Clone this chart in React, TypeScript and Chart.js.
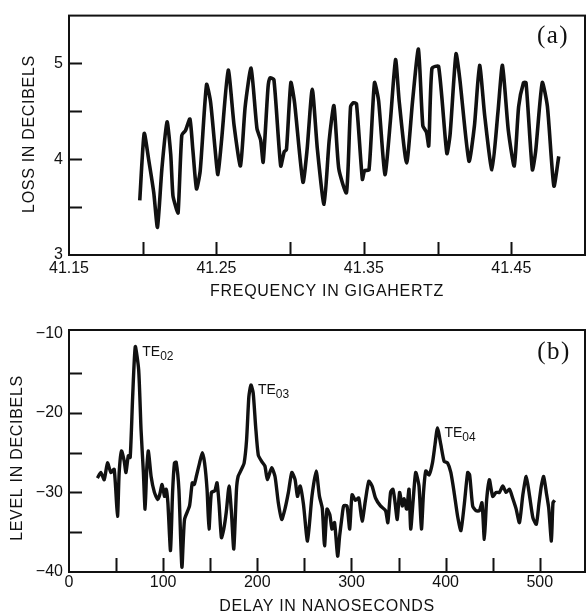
import React, { useEffect, useRef } from 'react';
import { Chart, registerables } from 'chart.js';

Chart.register(...registerables);

// ---------- Panel (a): loss vs frequency ----------
const freqGHz = [
  41.198, 41.201, 41.204, 41.2075, 41.21, 41.213, 41.2165, 41.219, 41.2205, 41.2225,
  41.224, 41.2265, 41.229, 41.232, 41.234, 41.2365, 41.239, 41.2433, 41.246, 41.249,
  41.251, 41.2535, 41.258, 41.262, 41.2663, 41.2695, 41.2735, 41.2775, 41.28, 41.2817,
  41.285, 41.2864, 41.289, 41.2936, 41.296, 41.2975, 41.3005, 41.303, 41.3087, 41.3115,
  41.315, 41.3185, 41.323, 41.3265, 41.3297, 41.333, 41.3382, 41.341, 41.343, 41.345,
  41.349, 41.3505, 41.3535, 41.3572, 41.36, 41.3643, 41.368, 41.3715, 41.374, 41.379,
  41.383, 41.387, 41.39, 41.3925, 41.394, 41.3962, 41.4007, 41.4063, 41.4085, 41.4125,
  41.415, 41.4213, 41.425, 41.4285, 41.432, 41.4369, 41.441, 41.444, 41.448, 41.452,
  41.455, 41.4583, 41.46, 41.4643, 41.4665, 41.471, 41.4745, 41.4789, 41.4822,
];
const lossDb = [
  3.57, 4.27, 4.0, 3.65, 3.29, 3.9, 4.39, 4.05, 3.62, 3.5,
  3.44, 4.25, 4.3, 4.42, 4.1, 3.69, 3.88, 4.78, 4.6, 4.12,
  3.84, 4.2, 4.93, 4.35, 3.93, 4.55, 4.95, 4.32, 4.2, 3.97,
  4.75, 4.85, 4.83, 3.93, 4.08, 4.1, 4.8, 4.59, 3.76, 4.1,
  4.73, 4.1, 3.53, 4.2, 4.56, 3.9, 3.65, 4.55, 4.59, 4.58,
  3.79, 3.88, 3.89, 4.8, 4.61, 3.84, 4.4, 5.04, 4.6, 3.96,
  4.6, 5.15, 4.35, 4.28, 4.14, 4.95, 4.97, 4.06, 4.26, 5.1,
  4.85, 3.98, 4.35, 4.98, 4.45, 3.89, 4.5, 4.98, 4.3, 3.93,
  4.55, 4.8, 4.8, 3.89, 4.08, 4.8, 4.55, 3.72, 4.03,
];
const freqTickMarks = [41.2, 41.25, 41.3, 41.35, 41.4, 41.45];
const freqTickLabels = [41.15, 41.25, 41.35, 41.45];
const lossTickMarks = [3.5, 4, 4.5, 5];
const lossTickLabels = [3, 4, 5];

// ---------- Panel (b): level vs delay ----------
const delayNs = [
  30.2, 33.8, 37.4, 40.9, 44.5, 48.0, 51.5, 53.3, 55.8, 58.7,
  60.5, 63.0, 65.0, 67.6, 70.4, 74.0, 76.5, 79.0, 80.8, 82.6,
  84.3, 87.2, 90.7, 94.3, 96.5, 98.9, 101.4, 103.2, 105.0, 107.8,
  110.0, 112.0, 113.8, 116.7, 119.9, 122.7, 128.0, 130.9, 133.0, 135.2,
  138.7, 141.6, 144.0, 146.6, 148.7, 151.2, 154.8, 157.2, 159.4, 161.9,
  164.4, 167.0, 170.0, 172.5, 175.0, 177.9, 179.6, 183.2, 186.0, 188.6,
  191.0, 193.2, 195.6, 198.2, 201.0, 204.6, 208.1, 210.6, 215.2, 218.8,
  222.3, 225.9, 229.5, 233.0, 236.6, 240.1, 242.6, 245.5, 249.0, 253.3,
  258.0, 262.5, 266.0, 269.0, 271.4, 274.0, 277.0, 279.3, 282.0, 285.3,
  287.4, 290.0, 291.7, 295.2, 298.1, 300.6, 304.2, 307.7, 311.3, 314.8,
  318.4, 321.9, 325.5, 330.8, 336.2, 338.6, 341.5, 344.0, 346.0, 348.6,
  351.1, 354.0, 356.0, 358.6, 361.1, 362.9, 365.5, 368.2, 371.7, 374.3,
  376.5, 378.9, 382.4, 386.0, 388.7, 391.3, 394.9, 398.4, 402.0, 405.5,
  409.0, 412.7, 416.2, 419.8, 423.4, 425.5, 428.7, 432.2, 435.8, 438.6,
  441.1, 443.5, 446.4, 450.0, 453.6, 457.1, 460.7, 464.2, 467.8, 471.4,
  474.9, 478.4, 482.0, 485.6, 489.2, 492.7, 496.3, 499.0, 501.6, 504.1,
  506.9, 509.5, 512.3, 514.0, 515.8,
];
const levelDb = [
  -28.2, -27.5, -28.4, -26.3, -27.5, -27.1, -33.0, -27.5, -24.8, -26.1,
  -27.5, -25.4, -25.6, -18.0, -11.7, -14.6, -22.1, -27.5, -32.1, -27.0,
  -24.8, -28.0, -30.0, -30.9, -30.2, -29.0, -30.5, -29.6, -31.3, -37.3,
  -30.0, -26.3, -26.2, -29.6, -39.4, -33.4, -31.7, -28.8, -29.0, -28.0,
  -26.3, -25.0, -26.3, -29.6, -34.6, -30.0, -29.8, -28.8, -31.5, -35.7,
  -34.6, -32.5, -29.2, -32.5, -37.1, -29.6, -28.0, -27.1, -26.3, -23.4,
  -18.0, -16.5, -17.5, -21.7, -25.3, -26.1, -26.7, -28.4, -26.9, -28.0,
  -31.3, -33.4, -32.0, -30.0, -27.5, -28.4, -30.5, -29.2, -31.5, -36.1,
  -30.5, -27.3, -30.5, -32.0, -36.7, -32.1, -32.8, -34.6, -33.8, -38.0,
  -35.5, -33.0, -31.7, -31.7, -34.6, -30.3, -31.0, -30.7, -33.6, -31.0,
  -28.6, -29.2, -30.7, -31.7, -32.3, -33.8, -30.0, -29.6, -31.0, -33.4,
  -30.0, -31.7, -30.8, -32.1, -29.6, -34.6, -31.0, -27.5, -29.2, -34.6,
  -30.0, -27.3, -27.8, -26.3, -24.0, -21.9, -24.0, -26.1, -26.3, -27.5,
  -30.0, -33.0, -34.8, -31.5, -27.5, -27.8, -31.7, -32.3, -32.3, -31.3,
  -35.9, -31.0, -28.4, -30.5, -30.0, -30.0, -29.2, -30.0, -29.6, -30.8,
  -32.1, -33.8, -30.3, -28.0, -30.5, -33.2, -34.0, -31.5, -29.2, -28.0,
  -30.0, -32.0, -36.1, -31.3, -31.0,
];
const delayTickMarks = [50, 100, 150, 200, 250, 300, 350, 400, 450, 500];
const delayTickLabels = [0, 100, 200, 300, 400, 500];
const levelTickMarks = [-35, -30, -25, -20, -15];
const levelTickLabels = [-40, -30, -20, -10];

const modeNames = ['02', '03', '04'];
const modeDelay = [70.4, 193.2, 391.3];
const modeLevel = [-11.7, -16.5, -21.9];

const INK = '#111';
const SANS = '"Liberation Sans", Arial, sans-serif';
const SERIF = '"Liberation Serif", "Times New Roman", serif';

type FrameOpts = {
  xMarks: number[];
  yMarks: number[];
  xTickLen: number;
  yTickLen: number;
  xTitle: string;
  xTitleY: number;
  yTitle: string;
  yTitleX: number;
  yTitleY: number;
  letter: string;
  letterX: number;
  letterY: number;
  modes?: boolean;
};

function framePlugin(o: FrameOpts) {
  return {
    id: 'frameDecor',
    afterDraw(chart: any) {
      const { ctx, chartArea: a } = chart;
      const x = chart.scales.x;
      const y = chart.scales.y;
      ctx.save();
      ctx.strokeStyle = INK;
      ctx.lineWidth = 2;
      ctx.strokeRect(a.left, a.top, a.right - a.left, a.bottom - a.top);
      ctx.beginPath();
      o.xMarks.forEach((v) => {
        const px = Math.round(x.getPixelForValue(v)) + 0.5;
        ctx.moveTo(px, a.bottom);
        ctx.lineTo(px, a.bottom - o.xTickLen);
      });
      o.yMarks.forEach((v) => {
        const py = Math.round(y.getPixelForValue(v)) + 0.5;
        ctx.moveTo(a.left, py);
        ctx.lineTo(a.left + o.yTickLen, py);
      });
      ctx.stroke();

      ctx.fillStyle = INK;
      ctx.font = `16px ${SANS}`;
      try { (ctx as any).letterSpacing = '0.7px'; } catch (e) {}
      ctx.textAlign = 'center';
      ctx.textBaseline = 'middle';
      ctx.fillText(o.xTitle, (a.left + a.right) / 2, o.xTitleY);
      ctx.save();
      ctx.translate(o.yTitleX, o.yTitleY);
      ctx.rotate(-Math.PI / 2);
      ctx.fillText(o.yTitle, 0, 0);
      ctx.restore();

      try { (ctx as any).letterSpacing = '1.5px'; } catch (e) {}
      ctx.font = `25px ${SERIF}`;
      ctx.fillText(o.letter, o.letterX, o.letterY);
      try { (ctx as any).letterSpacing = '0px'; } catch (e) {}

      if (o.modes) {
        ctx.textAlign = 'left';
        ctx.textBaseline = 'alphabetic';
        modeNames.forEach((n, i) => {
          const px = x.getPixelForValue(modeDelay[i]) + 7;
          const py = y.getPixelForValue(modeLevel[i]);
          ctx.font = `14px ${SANS}`;
          ctx.fillText('TE', px, py + 9);
          const w = ctx.measureText('TE').width;
          ctx.font = `12px ${SANS}`;
          ctx.fillText(n, px + w, py + 13);
        });
      }
      ctx.restore();
    },
  };
}

function minus(v: number) {
  return v < 0 ? '\u2212' + Math.abs(v) : String(v);
}

function axisCommon() {
  return {
    grid: { display: false, drawTicks: false },
    border: { display: false },
  };
}

export default function App() {
  const topRef = useRef<HTMLCanvasElement | null>(null);
  const botRef = useRef<HTMLCanvasElement | null>(null);

  useEffect(() => {
    const tickFont = { family: SANS, size: 16 };
    const top = new Chart(topRef.current as HTMLCanvasElement, {
      type: 'line',
      data: {
        datasets: [
          {
            data: freqGHz.map((f, i) => ({ x: f, y: lossDb[i] })),
            borderColor: INK,
            borderWidth: 3.6,
            pointRadius: 0,
            tension: 0.2,
            fill: false,
          },
        ],
      },
      options: {
        responsive: false,
        animation: false,
        devicePixelRatio: 1,
        layout: { padding: { top: 13, right: 2, left: 0, bottom: 0 } },
        plugins: { legend: { display: false }, tooltip: { enabled: false } },
        scales: {
          x: {
            type: 'linear',
            min: 41.15,
            max: 41.5,
            ...axisCommon(),
            afterFit: (s: any) => { s.height = 50; },
            afterBuildTicks: (s: any) => { s.ticks = freqTickLabels.map((v) => ({ value: v })); },
            ticks: {
              autoSkip: false,
              maxRotation: 0,
              padding: 4,
              color: INK,
              font: tickFont,
              callback: (v: any) => Number(v).toFixed(2),
            },
          },
          y: {
            type: 'linear',
            min: 3,
            max: 5.5,
            ...axisCommon(),
            afterFit: (s: any) => { s.width = 69; },
            afterBuildTicks: (s: any) => { s.ticks = lossTickLabels.map((v) => ({ value: v })); },
            ticks: {
              autoSkip: false,
              padding: 6,
              color: INK,
              font: tickFont,
              callback: (v: any) => String(v),
            },
          },
        },
      } as any,
      plugins: [
        framePlugin({
          xMarks: freqTickMarks,
          yMarks: lossTickMarks,
          xTickLen: 13,
          yTickLen: 13,
          xTitle: 'FREQUENCY IN GIGAHERTZ',
          xTitleY: 292,
          yTitle: 'LOSS IN DECIBELS',
          yTitleX: 30,
          yTitleY: 134,
          letter: '(a)',
          letterX: 553,
          letterY: 36,
        }),
      ],
    });

    const bot = new Chart(botRef.current as HTMLCanvasElement, {
      type: 'line',
      data: {
        datasets: [
          {
            data: delayNs.map((d, i) => ({ x: d, y: levelDb[i] })),
            borderColor: INK,
            borderWidth: 3.4,
            pointRadius: 0,
            tension: 0.2,
            fill: false,
          },
        ],
      },
      options: {
        responsive: false,
        animation: false,
        devicePixelRatio: 1,
        layout: { padding: { top: 25, right: 2, left: 0, bottom: 0 } },
        plugins: { legend: { display: false }, tooltip: { enabled: false } },
        scales: {
          x: {
            type: 'linear',
            min: 0,
            max: 548,
            ...axisCommon(),
            afterFit: (s: any) => { s.height = 39; },
            afterBuildTicks: (s: any) => { s.ticks = delayTickLabels.map((v) => ({ value: v })); },
            ticks: {
              autoSkip: false,
              maxRotation: 0,
              padding: 1,
              color: INK,
              font: tickFont,
              callback: (v: any) => String(v),
            },
          },
          y: {
            type: 'linear',
            min: -40,
            max: -9.6,
            ...axisCommon(),
            afterFit: (s: any) => { s.width = 69; },
            afterBuildTicks: (s: any) => { s.ticks = levelTickLabels.map((v) => ({ value: v })); },
            ticks: {
              autoSkip: false,
              padding: 6,
              color: INK,
              font: tickFont,
              callback: (v: any) => minus(Number(v)),
            },
          },
        },
      } as any,
      plugins: [
        framePlugin({
          xMarks: delayTickMarks,
          yMarks: levelTickMarks,
          xTickLen: 14,
          yTickLen: 13,
          xTitle: 'DELAY IN NANOSECONDS',
          xTitleY: 302,
          yTitle: 'LEVEL IN DECIBELS',
          yTitleX: 18,
          yTitleY: 153,
          letter: '(b)',
          letterX: 554,
          letterY: 47,
          modes: true,
        }),
      ],
    });

    return () => {
      top.destroy();
      bot.destroy();
    };
  }, []);

  return (
    <div style={{ position: 'fixed', left: 0, top: 0, width: 587, height: 611, background: '#fff' }}>
      <canvas ref={topRef} width={587} height={305} style={{ display: 'block', width: 587, height: 305 }} />
      <canvas ref={botRef} width={587} height={306} style={{ display: 'block', width: 587, height: 306 }} />
    </div>
  );
}
